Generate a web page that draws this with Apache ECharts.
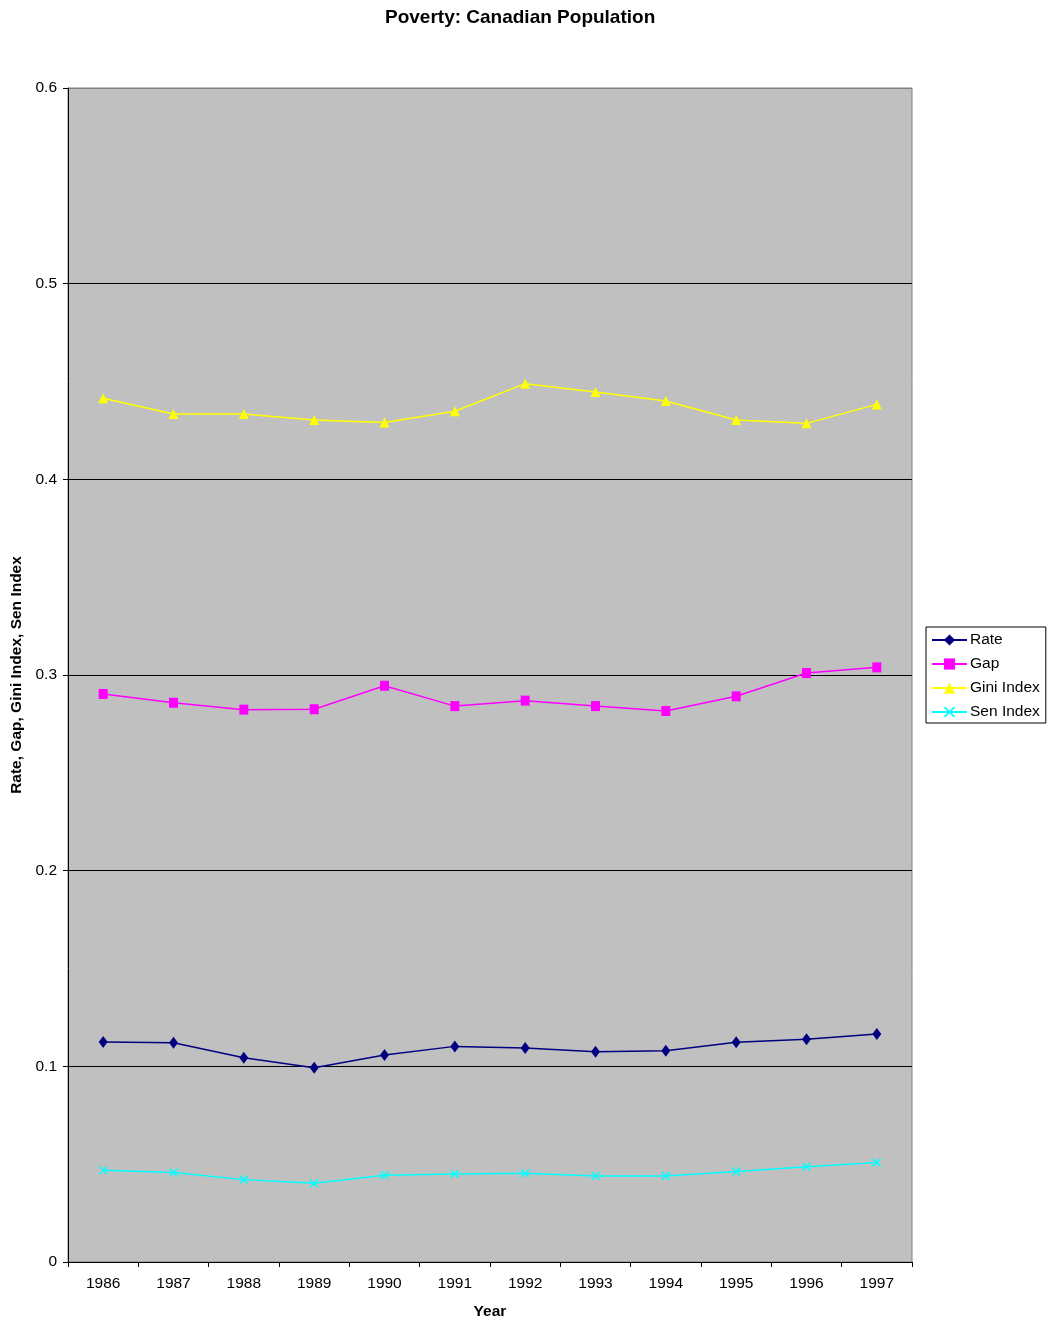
<!DOCTYPE html>
<html>
<head>
<meta charset="utf-8">
<script src="https://cdn.jsdelivr.net/npm/echarts@6/dist/echarts.min.js"></script>
<style>html,body{margin:0;padding:0;background:#fff}#c{width:1049px;height:1323px}</style>
</head>
<body>
<div id="c"></div>
<script>
const years = ['1986','1987','1988','1989','1990','1991','1992','1993','1994','1995','1996','1997'];
const rate = [0.1124,0.1121,0.1044,0.0993,0.1058,0.1102,0.1094,0.1075,0.1080,0.1123,0.1138,0.1165];
const gap = [0.2903,0.2858,0.2823,0.2825,0.2945,0.2841,0.2869,0.2841,0.2816,0.2891,0.3010,0.3039];
const gini = [0.4414,0.4334,0.4334,0.4303,0.4291,0.4348,0.4489,0.4446,0.4400,0.4303,0.4286,0.4383];
const sen = [0.0469,0.0457,0.0421,0.0402,0.0443,0.0450,0.0453,0.0440,0.0440,0.0463,0.0487,0.0508];

const FONT = '"Liberation Sans", Arial, sans-serif';
const xSym = 'path://M0,1.2L1.2,0L5,3.8L8.8,0L10,1.2L6.2,5L10,8.8L8.8,10L5,6.2L1.2,10L0,8.8L3.8,5Z';

const chart = echarts.init(document.getElementById('c'), null, {renderer:'canvas'});
function mk(name, data, color, symbol, size){
  return {name, type:'line', data, symbol, symbolSize:size, showSymbol:true,
    lineStyle:{color, width:1.5}, itemStyle:{color}, animation:false, z:3};
}
chart.setOption({
  animation:false,
  backgroundColor:'#ffffff',
  textStyle:{fontFamily:FONT},
  title:{text:'Poverty: Canadian Population', left:380, top:3,
    textStyle:{fontFamily:FONT, fontSize:19, fontWeight:'bold', color:'#000'}},
  grid:{left:68, right:137, top:88, bottom:61, outerBoundsMode:'none', containLabel:false,
    show:true, backgroundColor:'#c0c0c0', borderColor:'#808080', borderWidth:1},
  legend:{orient:'vertical', left:926, top:627, backgroundColor:'#fff',
    borderColor:'#000', borderWidth:1, padding:[5,6,3,5], itemWidth:35, itemHeight:14, itemGap:8,
    textStyle:{fontFamily:FONT, fontSize:15.5, color:'#000', padding:[0,0,0,-2]},
    data:['Rate','Gap','Gini Index','Sen Index']},
  xAxis:{type:'category', data:years, boundaryGap:true, name:'Year', nameLocation:'middle', nameGap:42,
    nameTextStyle:{fontFamily:FONT, fontSize:15.5, fontWeight:'bold', color:'#000'},
    axisLine:{lineStyle:{color:'#000', width:1}},
    axisTick:{show:true, length:5, lineStyle:{color:'#000'}},
    axisLabel:{fontFamily:FONT, fontSize:15.5, color:'#000', margin:14},
    splitLine:{show:false}},
  yAxis:{type:'value', min:0, max:0.6, interval:0.1, name:'Rate, Gap, Gini Index, Sen Index',
    nameLocation:'middle', nameGap:40,
    nameTextStyle:{fontFamily:FONT, fontSize:15.5, fontWeight:'bold', color:'#000'},
    axisLine:{show:true, lineStyle:{color:'#000', width:1}},
    axisTick:{show:true, length:5, lineStyle:{color:'#000'}},
    axisLabel:{fontFamily:FONT, fontSize:15.5, color:'#000', margin:11,
      formatter: v => (Math.round(v*10)/10).toString()},
    splitLine:{show:true, lineStyle:{color:['#000','#000','#000','#000','#000','#000','#808080'], width:1}}},
  series:[
    mk('Rate', rate, '#000080', 'diamond', [9,12]),
    mk('Gap', gap, '#ff00ff', 'rect', [9,10]),
    mk('Gini Index', gini, '#ffff00', 'triangle', [10,10]),
    mk('Sen Index', sen, '#00ffff', xSym, [9,9])
  ]
});
</script>
</body>
</html>
